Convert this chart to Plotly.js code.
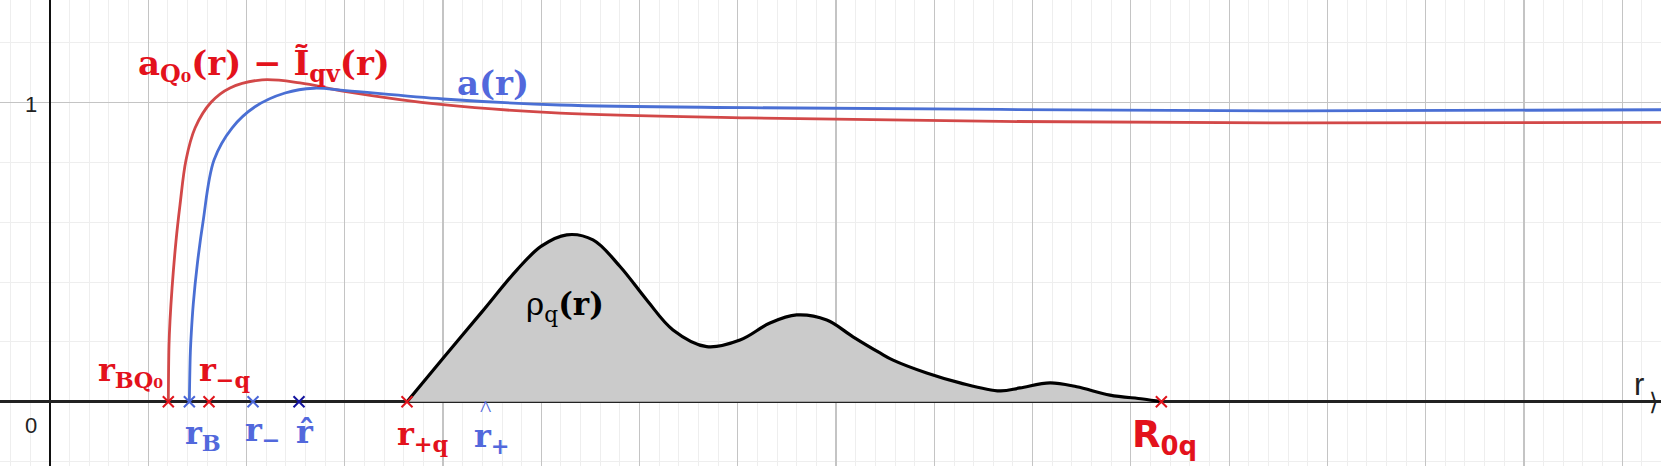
<!DOCTYPE html>
<html>
<head>
<meta charset="utf-8">
<script src="https://cdn.plot.ly/plotly-3.0.1.min.js"></script>
<style>
  html, body { margin: 0; padding: 0; background: #fff; }
  #plotArea { width: 1661px; height: 466px; }
</style>
</head>
<body>
<div id="plotArea"></div>
<script>
// ---- data (x in grid units, y in units of the "1" line) ----

// a_Q0(r) - I~_qv(r), red curve
const redR = [1.204, 1.211, 1.221, 1.242, 1.282, 1.323, 1.384, 1.476, 1.639, 1.832, 2.158, 2.544, 3.012, 4.0, 5.19, 7.12, 9.67, 12.72, 16.40];
const redA = [0.0, 0.190, 0.270, 0.380, 0.537, 0.658, 0.808, 0.915, 1.001, 1.049, 1.076, 1.066, 1.037, 0.993, 0.965, 0.949, 0.937, 0.932, 0.934];

// a(r), blue curve
const blueR = [1.418, 1.428, 1.438, 1.458, 1.499, 1.557, 1.669, 1.852, 2.086, 2.392, 2.687, 3.012, 4.0, 5.19, 7.12, 9.67, 12.72, 16.40];
const blueA = [0.0, 0.163, 0.230, 0.327, 0.460, 0.601, 0.808, 0.915, 0.986, 1.032, 1.048, 1.040, 1.012, 0.992, 0.983, 0.977, 0.972, 0.976];

// rho_q(r), grey filled density
const rhoR = [3.633, 4.0, 4.4, 4.75, 5.0, 5.259, 5.526, 5.801, 6.073, 6.340, 6.683, 7.022, 7.327, 7.599, 7.905, 8.172, 8.447, 8.580, 8.922, 9.261, 9.668, 9.871, 10.177, 10.449, 10.787, 11.123, 11.31];
const rhoV = [0.0, 0.145, 0.302, 0.440, 0.520, 0.558, 0.541, 0.452, 0.340, 0.240, 0.184, 0.206, 0.263, 0.290, 0.273, 0.217, 0.163, 0.139, 0.096, 0.063, 0.036, 0.046, 0.063, 0.050, 0.022, 0.009, 0.0];

// marked points on the r axis
const redPts = [1.204, 1.618, 3.633, 11.31];   // r_BQ0, r_-q, r_+q, R_0q
const bluePts = [1.418, 2.066];                // r_B, r_-
const hatPt = [2.534];                         // r^

// ---- colours ----
const RED_LINE = '#d24848';
const BLUE_LINE = '#4a6fd4';
const RED_TXT = '#e3121c';
const BLUE_TXT = '#5268dc';
const NAVY = '#14149e';

const serif = 'DejaVu Serif, Liberation Serif, serif';
const sans = 'Liberation Sans, Arial, sans-serif';

function cross(xs, color) {
  return {
    x: xs,
    y: xs.map(() => 0),
    mode: 'markers',
    type: 'scatter',
    hoverinfo: 'skip',
    marker: { symbol: 'x-thin-open', size: 11, color: color, line: { color: color, width: 2 } }
  };
}

const rhoTrace = {
  x: rhoR, y: rhoV,
  mode: 'lines', type: 'scatter',
  fill: 'tozeroy', fillcolor: '#cbcbcb',
  line: { color: '#000', width: 3.2, shape: 'spline', smoothing: 1 }
};
const redTrace = {
  x: redR, y: redA,
  mode: 'lines', type: 'scatter',
  line: { color: RED_LINE, width: 2.8, shape: 'spline', smoothing: 1 }
};
const blueTrace = {
  x: blueR, y: blueA,
  mode: 'lines', type: 'scatter',
  line: { color: BLUE_LINE, width: 2.8, shape: 'spline', smoothing: 1 }
};

const data = [rhoTrace, redTrace, blueTrace, cross(redPts, '#e0141c'), cross(bluePts, '#4a66d8'), cross(hatPt, NAVY)];

// text labels placed in data coordinates
function lab(x, y, text, color, size, family, anchor) {
  return {
    x: x, y: y, xref: 'x', yref: 'y', text: text, showarrow: false,
    xanchor: anchor || 'center', yanchor: 'middle',
    font: { color: color, size: size, family: family }
  };
}

const annotations = [
  lab(0.88, 1.125, '<b>a<sub>Q₀</sub>(r) − Ĩ<sub>qv</sub>(r)</b>', RED_TXT, 34, serif, 'left'),
  lab(4.51, 1.065, '<b>a(r)</b>', BLUE_TXT, 34, serif),
  lab(1.175, 0.10, '<b>r<sub>BQ₀</sub></b>', RED_TXT, 32, serif, 'right'),
  lab(1.50, 0.10, '<b>r<sub>−q</sub></b>', RED_TXT, 32, serif, 'left'),
  lab(1.56, -0.11, '<b>r<sub>B</sub></b>', BLUE_TXT, 32, serif),
  lab(2.17, -0.10, '<b>r<sub>−</sub></b>', BLUE_TXT, 32, serif),
  lab(2.59, -0.10, '<b>r̂</b>', BLUE_TXT, 32, serif),
  lab(3.80, -0.115, '<b>r<sub>+q</sub></b>', RED_TXT, 32, serif),
  lab(4.43, -0.022, '^', BLUE_TXT, 24, 'Liberation Serif, serif'),
  lab(4.50, -0.12, '<b>r<sub>+</sub></b>', BLUE_TXT, 32, serif),
  lab(11.34, -0.118, '<b>R<sub>0q</sub></b>', RED_TXT, 37, 'DejaVu Sans, sans-serif'),
  lab(5.24, 0.318, 'ρ<sub>q</sub><b>(r)</b>', '#000', 31, serif),
  lab(16.17, 0.058, 'r', '#222', 31, sans),
  lab(16.32, 0.0, '⟩', '#222', 24, 'DejaVu Sans, sans-serif'),
  lab(-0.19, 0.995, '1', '#222', 22, sans),
  lab(-0.19, -0.078, '0', '#222', 22, sans)
];

const gridMajor = '#c4c4c4';
const gridMinor = '#eeeeee';

const layout = {
  width: 1661,
  height: 466,
  margin: { l: 0, r: 0, t: 0, b: 0 },
  paper_bgcolor: '#fff',
  plot_bgcolor: '#fff',
  showlegend: false,
  xaxis: {
    range: [-0.509, 16.395],
    dtick: 1, tick0: 0,
    showticklabels: false, ticks: '',
    showgrid: true, gridcolor: gridMajor, gridwidth: 1.2,
    minor: { dtick: 0.2, showgrid: true, gridcolor: gridMinor, gridwidth: 1 },
    zeroline: true, zerolinecolor: '#111', zerolinewidth: 2,
    showline: false, fixedrange: true
  },
  yaxis: {
    range: [-0.215, 1.343],
    dtick: 1, tick0: 0,
    showticklabels: false, ticks: '',
    showgrid: true, gridcolor: gridMajor, gridwidth: 1.2,
    minor: { dtick: 0.2, showgrid: true, gridcolor: gridMinor, gridwidth: 1 },
    zeroline: true, zerolinecolor: '#222', zerolinewidth: 2.4,
    showline: false, fixedrange: true
  },
  annotations: annotations
};

Plotly.newPlot('plotArea', data, layout, { staticPlot: true, displayModeBar: false });
</script>
</body>
</html>
